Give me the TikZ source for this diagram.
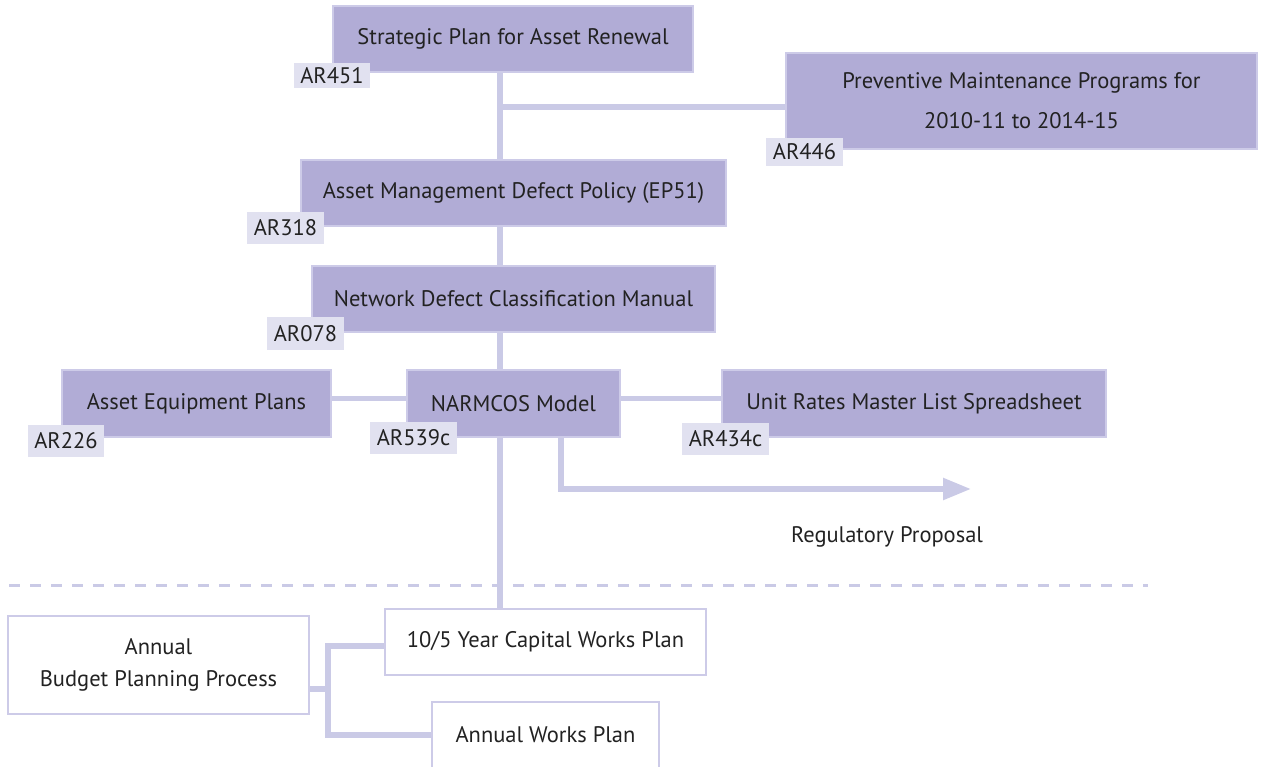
\documentclass[tikz,border=0pt]{standalone}
\usepackage{fontspec}
\setmainfont{PT Sans}
\usepackage{tikz}
\usetikzlibrary{arrows.meta, calc}
\usetikzlibrary{positioning}

\definecolor{boxfill}{RGB}{177,172,214}
\definecolor{boxline}{RGB}{205,203,232}
\definecolor{linkcol}{RGB}{202,202,230}
\definecolor{tagfill}{RGB}{225,225,240}
\definecolor{ink}{RGB}{34,34,34}

\tikzset{
  doc/.style={draw=boxline, line width=2.5pt, fill=boxfill, text=ink,
    inner sep=0pt, minimum height=66pt, align=center},
  plan/.style={doc, fill=white},
  tag/.style={fill=tagfill, text=ink, inner xsep=6.5pt, inner ysep=0pt,
    minimum height=32pt},
  link/.style={draw=linkcol, line width=5.5pt},
  flow/.style={link, -{Triangle[length=28pt,width=21pt]}},
  sep/.style={draw=linkcol, line width=3pt, dash pattern=on 11pt off 10pt}
}

\begin{document}
\begin{tikzpicture}[x=1pt, y=-1pt, font=\fontsize{22.5}{27}\selectfont]

  \useasboundingbox (0,0) rectangle (1269,767);
  \coordinate (spine) at (500,0);

  % --- Documenti ---
  \node[doc, minimum width=360pt] (strat) at (513,39) {Strategic Plan for Asset Renewal};
  \node[doc, minimum width=471pt, minimum height=96pt] (prev) at (1021.5,101)
    {Preventive Maintenance Programs for\\[13pt] 2010-11 to 2014-15};
  \node[doc, minimum width=425pt] (amdp) at (513.5,193) {Asset Management Defect Policy (EP51)};
  \node[doc, minimum width=403pt] (ndcm) at (513.5,299) {Network Defect Classification Manual};
  \node[doc, minimum width=269pt, minimum height=67pt] (aep) at (196.5,403.5) {Asset Equipment Plans};
  \node[doc, minimum width=213pt, minimum height=67pt] (narm) at (513.5,403.5) {NARMCOS Model};
  \node[doc, minimum width=384pt, minimum height=67pt] (urml) at (914,403.5) {Unit Rates Master List Spreadsheet};

  % --- Piani ---
  \node[plan, minimum width=301pt, minimum height=98pt] (budget) at (158.5,665)
    {Annual\\[5pt] Budget Planning Process};
  \node[plan, minimum width=321pt] (cwp) at (545.5,642) {10/5 Year Capital Works Plan};
  \node[plan, minimum width=227pt] (awp) at (545.5,735) {Annual Works Plan};

  % --- Collegamenti ---
  \coordinate (j1) at (500,107);
  \draw[link] (strat.south -| spine) -- (amdp.north -| spine);
  \draw[link] (j1) -- (j1 -| prev.west);
  \draw[link] (amdp.south -| spine) -- (ndcm.north -| spine);
  \draw[link] (ndcm.south -| spine) -- (narm.north -| spine);
  \draw[link] ([yshift=5pt]aep.east) -- ([yshift=5pt]narm.west);
  \draw[link] ([yshift=5pt]narm.east) -- ([yshift=5pt]urml.west);
  \draw[link] (narm.south -| spine) -- (cwp.north -| spine);

  % --- Uscita verso la proposta ---
  \coordinate (rp) at (971,489);
  \draw[flow] ([xshift=47.5pt]narm.south) |- (rp);
  \node[text=ink] (rplab) at (887,537) {Regulatory Proposal};

  % --- Linea tratteggiata ---
  \draw[sep] (9,585) -- (1148,585);

  % --- Diramazione del budget ---
  \coordinate (fork) at (328,689);
  \draw[link] ([yshift=-24pt]budget.east) -- (fork);
  \draw[link] ([yshift=-4pt]cwp.west) -| (fork) |- (awp.west);

  % --- Codici ---
  \node[tag, minimum height=25pt] (t451) at (332,75.5) {AR451};
  \node[tag, minimum height=28pt] (t446) at (804.5,152) {AR446};
  \node[tag] (t318) at (285.5,228) {AR318};
  \node[tag] (t078) at (305.5,333.5) {AR078};
  \node[tag] (t226) at (66,440.5) {AR226};
  \node[tag] (t539) at (413.5,437.5) {AR539c};
  \node[tag] (t434) at (725.5,438.5) {AR434c};

\end{tikzpicture}
\end{document}
